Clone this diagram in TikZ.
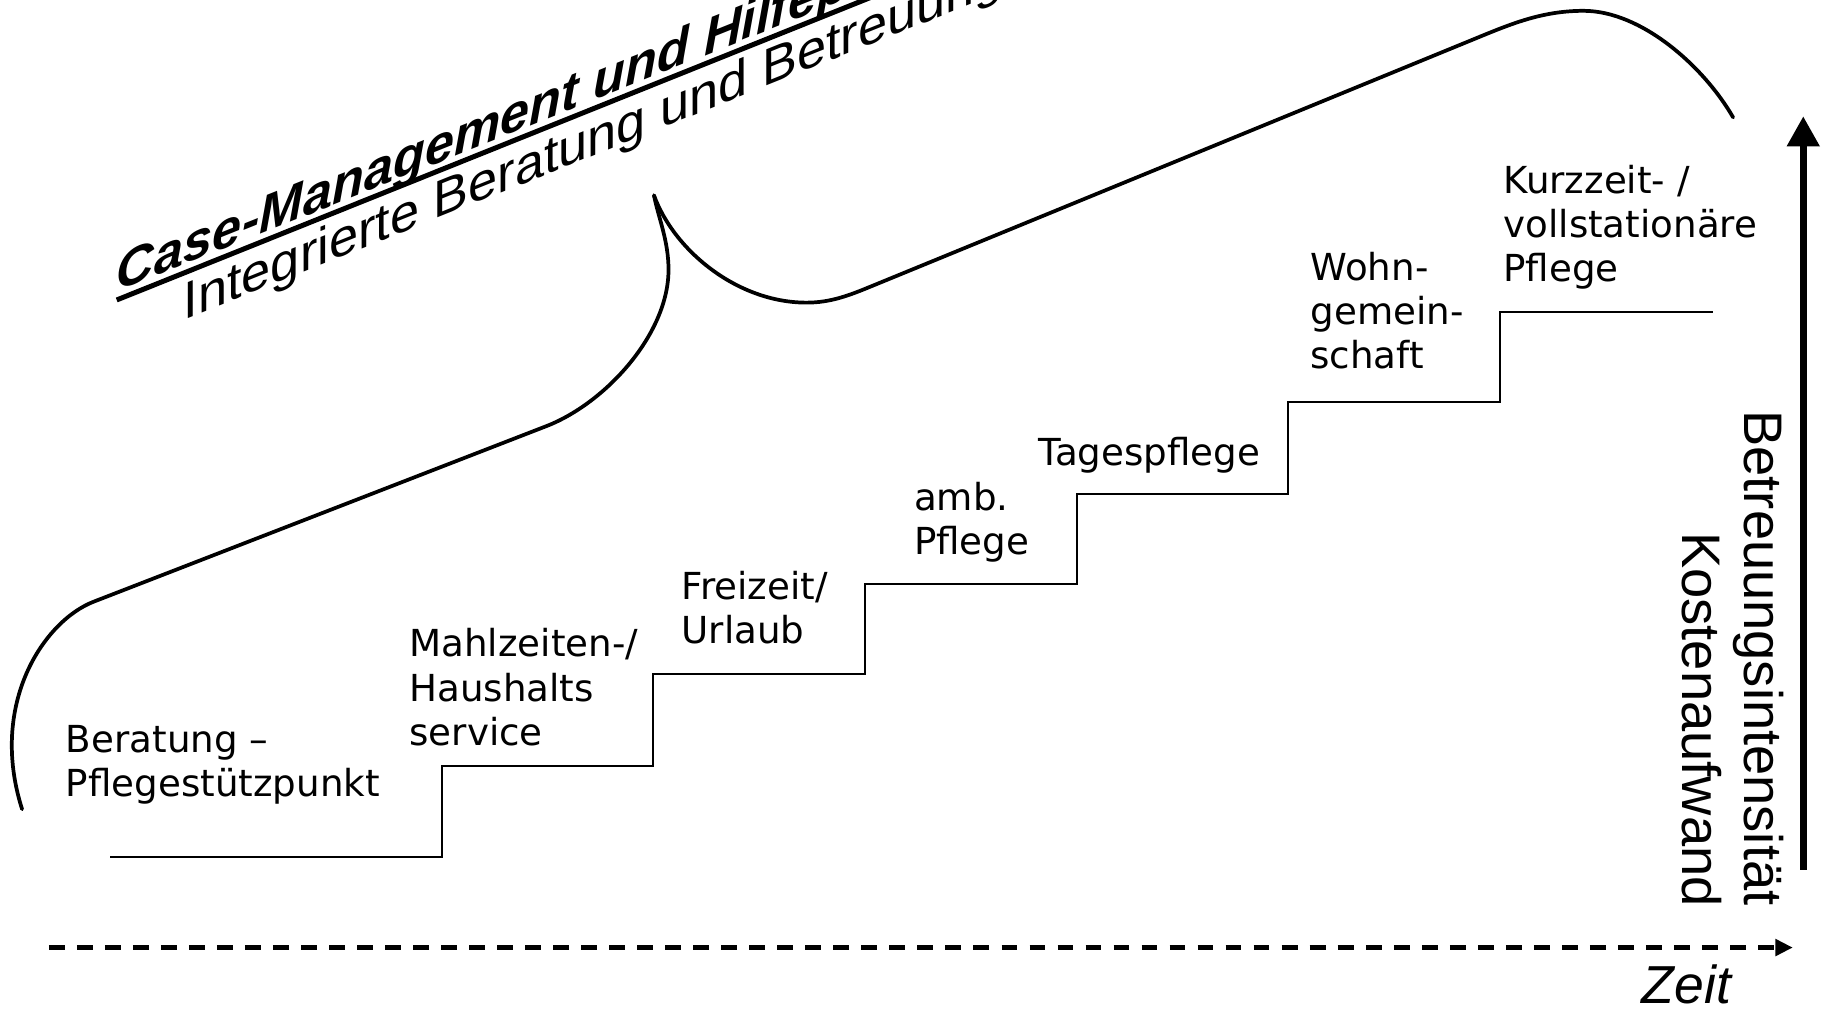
\documentclass[tikz,border=0pt]{standalone}
\usepackage{fontspec}
\usetikzlibrary{arrows.meta,calc}
\newfontfamily\labelfont{DejaVu Sans}
\newfontfamily\arialfont{Liberation Sans}
\begin{document}
\begin{tikzpicture}[x=1pt,y=-1pt,
  stair/.style={line width=1.8pt, line join=miter},
  bracket/.style={line width=3.2pt, line cap=round, line join=round},
  stufe/.style={font=\labelfont\fontsize{32}{38}\selectfont, align=left,
                anchor=base west, inner sep=0pt},
  achse/.style={font=\arialfont\fontsize{46.7}{55}\selectfont, rotate=-90,
                anchor=base east, inner sep=0pt},
  schraeg/.style={yslant=0.4013, anchor=base west, inner sep=0pt},
]
\useasboundingbox (0,0) rectangle (1568,868);
\fill[white] (0,0) rectangle (1568,868);
\begin{scope}
\clip (0,0) rectangle (1568,868);

% staircase of services
\draw[stair] (95,737) -| (380,659) -| (562,580) -| (744,502) -| (926,425)
             -| (1108,346) -| (1290,268) -- (1473,268);

% step labels (anchored at the baseline of the last line)
\node[stufe] (beratung) at (56.5,685) {Beratung –\\Pflegestützpunkt};
\node[stufe] (mahlzeit) at (352,641) {Mahlzeiten-/\\Haushalts\\service};
\node[stufe] (freizeit) at (586,553.5) {Freizeit/\\Urlaub};
\node[stufe] (ambulant) at (786,477) {amb.\\Pflege};
\node[stufe] (tages) at (893,400) {Tagespflege};
\node[stufe] (wohn) at (1127,317) {Wohn-\\gemein-\\schaft};
\node[stufe] (kurzzeit) at (1293,242) {Kurzzeit- /\\vollstationäre\\Pflege};

% bracket spanning the services
\coordinate (spitze) at (562.5,168);
\draw[bracket] (19,696) .. controls (-10,605) and (38,534) .. (80.6,517.5)
  -- (470,366.5) .. controls (521.3,346.5) and (575,287) .. (575,232)
  .. controls (575,207) and (566.5,188) .. (spitze);
\draw[bracket] (spitze) .. controls (579.5,215) and (633.8,260.3) .. (693.8,260.3)
  .. controls (715,260.3) and (731.5,253.6) .. (750,246)
  -- (1265,34.8) .. controls (1297.4,21.5) and (1325,9.3) .. (1362,9.3)
  .. controls (1412,9.3) and (1465.7,57.5) .. (1490.7,101);

% slanted headings
\node[schraeg, font=\arialfont\bfseries\itshape\fontsize{45}{55}\selectfont]
  (titel) at (100.4,251) {Case-Management und Hilfeplanung};
\draw[line width=4.3pt]
  ($(titel.base west)+(0,7)$) -- ($(titel.base east)+(0,7)$);
\node[schraeg, font=\arialfont\fontsize{45}{55}\selectfont]
  (untertitel) at (157.8,275.5) {Integrierte Beratung und Betreuung};

% vertical axis: care intensity / cost
\coordinate (yunten) at (1551,748);
\coordinate (yoben) at (1551,100);
\draw[line width=6pt, -{Triangle[length=26pt,width=27pt]}] (yunten) -- (yoben);
\node[achse] (betreuung) at (1500.5,779) {Betreuungsintensität};
\node[achse] (kosten) at (1447,780) {Kostenaufwand};

% horizontal axis: time
\coordinate (xlinks) at (42,815);
\coordinate (xrechts) at (1542,815);
\draw[line width=4.3pt, dash pattern=on 13.6pt off 10.5pt,
      -{Triangle[length=15pt,width=14pt]}] (xlinks) -- (xrechts);
\node[font=\arialfont\itshape\fontsize{46}{50}\selectfont, anchor=base west,
      inner sep=0pt] (zeit) at (1412,863) {Zeit};
\end{scope}
\end{tikzpicture}
\end{document}
